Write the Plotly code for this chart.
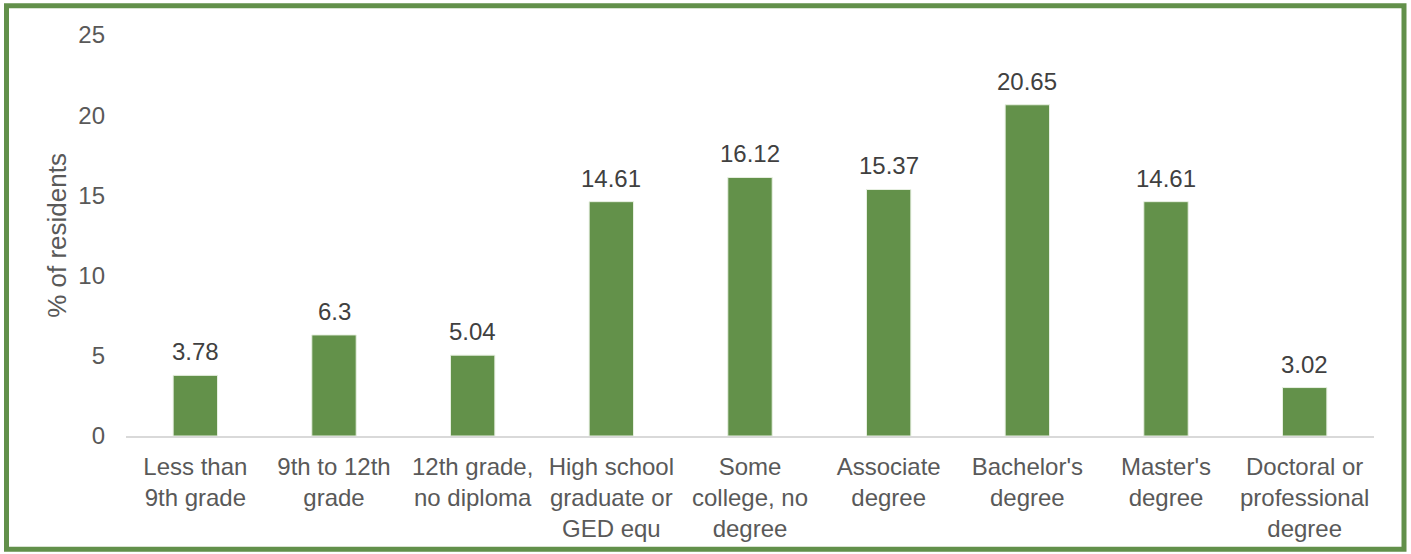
import plotly.graph_objects as go

categories = ["Less than<br>9th grade", "9th to 12th<br>grade", "12th grade,<br>no diploma",
              "High school<br>graduate or<br>GED equ", "Some<br>college, no<br>degree",
              "Associate<br>degree", "Bachelor's<br>degree", "Master's<br>degree",
              "Doctoral or<br>professional<br>degree"]
values = [3.78, 6.3, 5.04, 14.61, 16.12, 15.37, 20.65, 14.61, 3.02]
labels = ["3.78", "6.3", "5.04", "14.61", "16.12", "15.37", "20.65", "14.61", "3.02"]

W, H = 1411, 554
ml, mr, mt, mb = 126, 37, 35, 115
pw, ph = W - ml - mr, H - mt - mb

def px(x):
    return (x - ml) / pw

def py(y):
    return (H - mb - y) / ph

FONT = "Liberation Sans, Arial"

fig = go.Figure(go.Bar(
    x=categories, y=values,
    marker=dict(color="#63914A", line=dict(color="#E8F0E2", width=1)),
))

for c, v, t in zip(categories, values, labels):
    fig.add_annotation(x=c, y=v, text=t, showarrow=False, yanchor="bottom", yshift=8,
                       font=dict(size=24, color="#404040", family=FONT))

fig.update_layout(
    width=W, height=H,
    margin=dict(l=ml, r=mr, t=mt, b=mb),
    paper_bgcolor="white", plot_bgcolor="white",
    bargap=0.68,
    showlegend=False,
    font=dict(family=FONT, size=24, color="#595959"),
    xaxis=dict(showline=True, linecolor="#D9D9D9", linewidth=2, ticks="",
               ticklabelstandoff=8,
               tickfont=dict(size=24, color="#595959")),
    yaxis=dict(range=[0, 25], dtick=5, showgrid=False, zeroline=False, showline=False,
               ticklabelstandoff=20,
               tickfont=dict(size=24, color="#595959"),
               title=dict(text="% of residents", font=dict(size=26, color="#595959"), standoff=4)),
    shapes=[dict(type="rect", xref="paper", yref="paper",
                 x0=px(6.5), x1=px(1404), y0=py(553), y1=py(5.5),
                 line=dict(color="#62904A", width=5), fillcolor="rgba(0,0,0,0)", layer="above")],
)

fig.write_html("out.html", config={"displayModeBar": False})

with open("out.html", "r", encoding="utf-8") as f:
    html = f.read()
html = html.replace("<head>", "<head><style>html,body{margin:0;padding:0;overflow:hidden;}</style>", 1)
with open("out.html", "w", encoding="utf-8") as f:
    f.write(html)
